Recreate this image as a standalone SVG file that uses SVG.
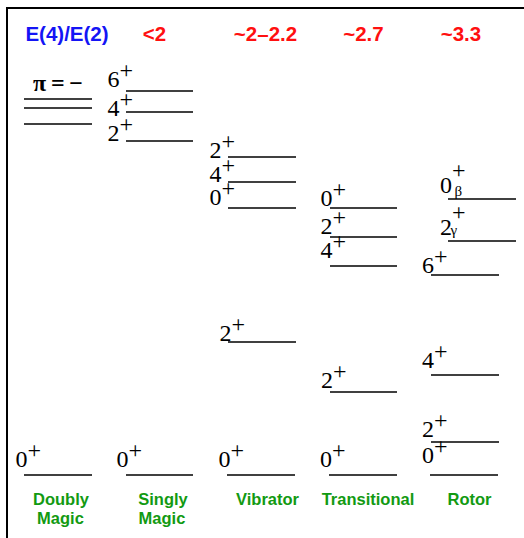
<svg xmlns="http://www.w3.org/2000/svg" width="524" height="538" viewBox="0 0 524 538">
<style>
.hdr{font-family:"Liberation Sans",Arial,sans-serif;font-weight:bold;font-size:20.5px;text-anchor:middle}
.blue{fill:#1414f5}
.red{fill:#ff1010}
.grn{font-family:"Liberation Sans",Arial,sans-serif;font-weight:bold;font-size:16.5px;fill:#129a12;text-anchor:middle}
.lab{font-family:"Liberation Serif","Times New Roman",serif;font-size:24px;fill:#000}
.sub{font-size:15px}
.lv{stroke:#000;stroke-width:1.7;fill:none}
</style>
<rect width="524" height="538" fill="#fff"/>
<path d="M7,538 V8 H524" fill="none" stroke="#000" stroke-width="2"/>
<g id="headers">
<text class="hdr blue" x="67" y="41">E(4)/E(2)</text>
<text class="hdr red" x="154.5" y="41">&lt;2</text>
<text class="hdr red" x="265.5" y="41">~2–2.2</text>
<text class="hdr red" x="363.5" y="41">~2.7</text>
<text class="hdr red" x="461" y="41">~3.3</text>
</g>
<g id="connectors">
<line class="lv" x1="24" y1="99" x2="92" y2="99"/>
<line class="lv" x1="24" y1="108" x2="92" y2="108"/>
<line class="lv" x1="24" y1="124" x2="92" y2="124"/>
<line class="lv" x1="24" y1="475" x2="92" y2="475"/>
<line class="lv" x1="126" y1="91" x2="193" y2="91"/>
<line class="lv" x1="126" y1="112" x2="193" y2="112"/>
<line class="lv" x1="126" y1="141" x2="193" y2="141"/>
<line class="lv" x1="126" y1="475" x2="193" y2="475"/>
<line class="lv" x1="228" y1="157" x2="296" y2="157"/>
<line class="lv" x1="228" y1="182" x2="296" y2="182"/>
<line class="lv" x1="228" y1="208" x2="296" y2="208"/>
<line class="lv" x1="228" y1="342" x2="296" y2="342"/>
<line class="lv" x1="227" y1="475" x2="295" y2="475"/>
<line class="lv" x1="330" y1="208" x2="397" y2="208"/>
<line class="lv" x1="330" y1="237" x2="397" y2="237"/>
<line class="lv" x1="330" y1="266" x2="397" y2="266"/>
<line class="lv" x1="330" y1="392" x2="397" y2="392"/>
<line class="lv" x1="329" y1="475" x2="397" y2="475"/>
<line class="lv" x1="448" y1="199" x2="516" y2="199"/>
<line class="lv" x1="448" y1="241" x2="516" y2="241"/>
<line class="lv" x1="431" y1="275" x2="499" y2="275"/>
<line class="lv" x1="431" y1="375" x2="499" y2="375"/>
<line class="lv" x1="431" y1="442" x2="499" y2="442"/>
<line class="lv" x1="430" y1="475" x2="498" y2="475"/>
</g>
<g id="doubly-magic">
<text class="lab" x="33" y="91" font-weight="bold" textLength="50" lengthAdjust="spacing">π = −</text>
<text class="lab" x="15.5" y="467">0<tspan dy="-9">+</tspan></text>
<text class="grn" x="61" y="505">Doubly</text>
<text class="grn" x="60.5" y="524">Magic</text>
</g>
<g id="singly-magic">
<text class="lab" x="107.5" y="87">6<tspan dy="-9">+</tspan></text>
<text class="lab" x="107.5" y="115.5">4<tspan dy="-9">+</tspan></text>
<text class="lab" x="107.5" y="141">2<tspan dy="-9">+</tspan></text>
<text class="lab" x="116.5" y="467">0<tspan dy="-9">+</tspan></text>
<text class="grn" x="163" y="505">Singly</text>
<text class="grn" x="162" y="524">Magic</text>
</g>
<g id="vibrator">
<text class="lab" x="209.5" y="158">2<tspan dy="-9">+</tspan></text>
<text class="lab" x="209.5" y="182">4<tspan dy="-9">+</tspan></text>
<text class="lab" x="209.5" y="205">0<tspan dy="-9">+</tspan></text>
<text class="lab" x="219.5" y="341">2<tspan dy="-9">+</tspan></text>
<text class="lab" x="218.5" y="467">0<tspan dy="-9">+</tspan></text>
<text class="grn" x="267.5" y="505">Vibrator</text>
</g>
<g id="transitional">
<text class="lab" x="320.5" y="206">0<tspan dy="-9">+</tspan></text>
<text class="lab" x="320.5" y="233.5">2<tspan dy="-9">+</tspan></text>
<text class="lab" x="320.5" y="258">4<tspan dy="-9">+</tspan></text>
<text class="lab" x="321" y="388">2<tspan dy="-9">+</tspan></text>
<text class="lab" x="320" y="467">0<tspan dy="-9">+</tspan></text>
<text class="grn" x="368" y="505">Transitional</text>
</g>
<g id="rotor">
<text class="lab" x="440" y="193">0<tspan dy="-15">+</tspan><tspan class="sub" x="454.5" y="196">β</tspan></text>
<text class="lab" x="440" y="235">2<tspan dy="-15">+</tspan><tspan class="sub" x="450.5" y="234.5" font-size="16">γ</tspan></text>
<text class="lab" x="422" y="273">6<tspan dy="-9">+</tspan></text>
<text class="lab" x="422" y="368">4<tspan dy="-9">+</tspan></text>
<text class="lab" x="422" y="437">2<tspan dy="-9">+</tspan></text>
<text class="lab" x="422" y="463">0<tspan dy="-9">+</tspan></text>
<text class="grn" x="469.5" y="505">Rotor</text>
</g>
</svg>
